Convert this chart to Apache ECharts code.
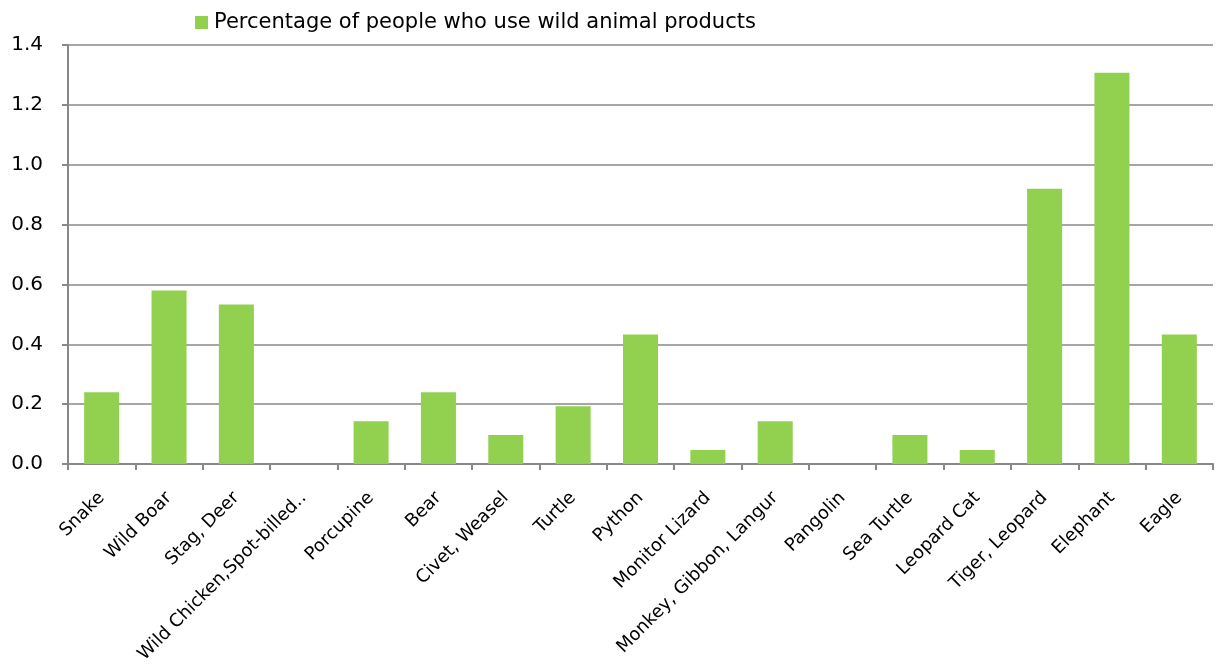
<!DOCTYPE html>
<html><head><meta charset="utf-8">
<script src="https://cdn.jsdelivr.net/npm/echarts@6/dist/echarts.min.js"></script>
<style>html,body{margin:0;padding:0;background:#fff}#c{width:1218px;height:666px}</style>
</head><body><div id="c"></div>
<script>
const categories = ["Snake","Wild Boar","Stag, Deer","Wild Chicken,Spot-billed\u2025","Porcupine","Bear","Civet, Weasel","Turtle","Python","Monitor Lizard","Monkey, Gibbon, Langur","Pangolin","Sea Turtle","Leopard Cat","Tiger, Leopard","Elephant","Eagle"];
const values = [0.24,0.58,0.533,0,0.143,0.24,0.097,0.193,0.433,0.047,0.143,0,0.097,0.047,0.92,1.307,0.433];
const seriesName = "Percentage of people who use wild animal products";
const chart = echarts.init(document.getElementById('c'));
chart.setOption({
  animation:false,
  grid:{left:68,right:5,top:45,bottom:201,containLabel:false},
  legend:{left:190,top:7,itemWidth:13,itemHeight:13,icon:'rect',
    textStyle:{fontFamily:'DejaVu Sans',fontSize:21,color:'#000',padding:[0,0,0,1]},
    data:[seriesName]},
  xAxis:{type:'category',data:categories,
    axisLine:{lineStyle:{color:'#888',width:2}},
    axisTick:{show:true,length:6,lineStyle:{color:'#888',width:2}},
    axisLabel:{interval:0,rotate:45,fontFamily:'DejaVu Sans',fontSize:18,color:'#000',margin:31}},
  yAxis:{type:'value',min:0,max:1.4,interval:0.2,
    axisLine:{show:true,lineStyle:{color:'#888',width:2}},
    axisTick:{show:true,length:6,lineStyle:{color:'#888',width:2}},
    splitLine:{lineStyle:{color:'#888',width:1.5}},
    axisLabel:{formatter:v=>v.toFixed(1),fontFamily:'DejaVu Sans',fontSize:20,color:'#000',margin:25}},
  series:[{name:seriesName,type:'bar',data:values,barWidth:'52%',
    itemStyle:{color:'#92D050'}}]
});
</script></body></html>
